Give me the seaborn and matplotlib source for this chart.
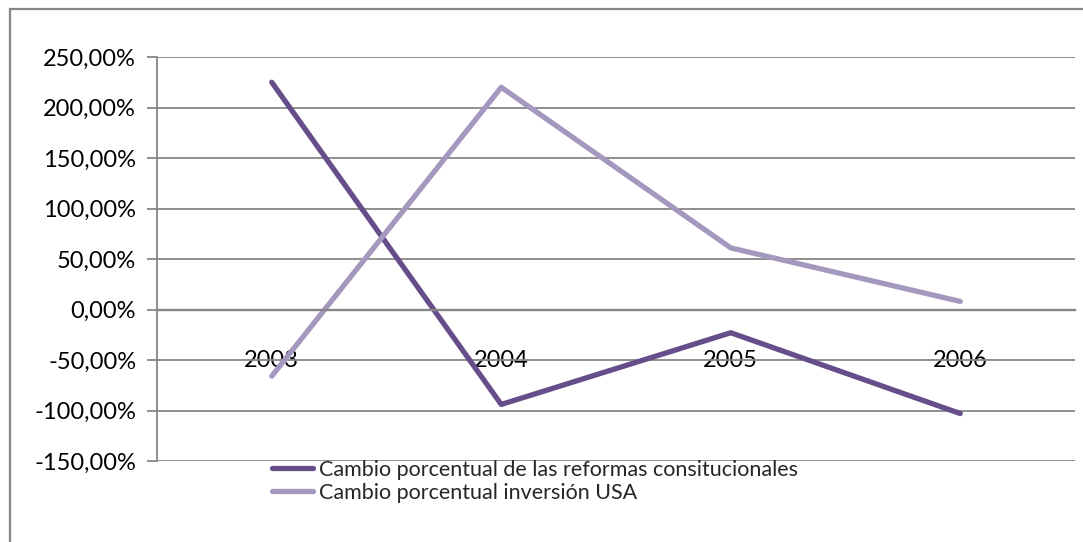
import matplotlib
matplotlib.use("Agg")
import matplotlib.pyplot as plt
import seaborn as sns
import pandas as pd
from matplotlib.patches import Rectangle
from matplotlib.ticker import FuncFormatter, FixedLocator
from matplotlib.lines import Line2D

years = ["2003", "2004", "2005", "2006"]
reformas = [225.0, -94.0, -23.0, -103.0]
inversion = [-66.0, 220.0, 61.0, 8.0]
series_names = ["Cambio porcentual de las reformas consitucionales",
                "Cambio porcentual inversión USA"]
colors = ["#654E8A", "#A598BE"]

df = pd.DataFrame({
    "x": list(range(len(years))) * 2,
    "valor": reformas + inversion,
    "serie": [series_names[0]] * len(years) + [series_names[1]] * len(years),
})

sns.set_theme(style="white")
plt.rcParams["font.family"] = ["Lato", "DejaVu Sans"]

fig = plt.figure(figsize=(10.83, 5.42), dpi=100)
ax = fig.add_axes([157/1083, 1-461/542, (1075-157)/1083, (461-57)/542])

sns.lineplot(data=df, x="x", y="valor", hue="serie", palette=colors,
             linewidth=3.8, ax=ax, legend=False, solid_capstyle="round",
             sort=False)

ax.set_xlim(-0.5, len(years) - 0.5)
ax.set_ylim(-150, 250)
ax.set_yticks(range(-150, 251, 50))
ax.yaxis.set_major_formatter(FuncFormatter(lambda v, p: f"{v:.2f}%".replace(".", ",")))
ax.grid(axis="y", color="#868686", linewidth=1.3)
ax.set_axisbelow(True)

for s in ["top", "right"]:
    ax.spines[s].set_visible(False)
ax.spines["left"].set_color("#868686")
ax.spines["left"].set_linewidth(1.3)
ax.spines["bottom"].set_position(("data", 0))
ax.spines["bottom"].set_color("#868686")
ax.spines["bottom"].set_linewidth(1.7)

ax.xaxis.set_major_locator(FixedLocator([i - 0.5 for i in range(len(years) + 1)]))
ax.xaxis.set_minor_locator(FixedLocator(list(range(len(years)))))
ax.set_xticklabels([], minor=False)
ax.set_xticklabels(years, minor=True)
ax.tick_params(axis="x", which="major", direction="out", length=7, width=1.3, color="#868686")
ax.tick_params(axis="x", which="minor", length=0, pad=29, labelsize=17, labelcolor="black")
ax.tick_params(axis="y", direction="out", length=7, width=1.3, color="#868686",
               labelsize=17, labelcolor="black", pad=8, left=True)
ax.set_xlabel("")
ax.set_ylabel("")

handles = [Line2D([0], [0], color=c, linewidth=3.8) for c in colors]
fig.legend(handles, series_names, loc="upper left",
           bbox_to_anchor=(263/1083, 1-451/542), frameon=False,
           fontsize=15.5, handlelength=1.9, handletextpad=0.3,
           labelspacing=0.15, borderaxespad=0)

fig.patches.append(Rectangle((10/1083, -0.1), 1.2, 1 - 9/542 + 0.1,
                             transform=fig.transFigure, fill=False,
                             edgecolor="#868686", linewidth=1.6, zorder=0))

fig.savefig("out.png", dpi=100)
